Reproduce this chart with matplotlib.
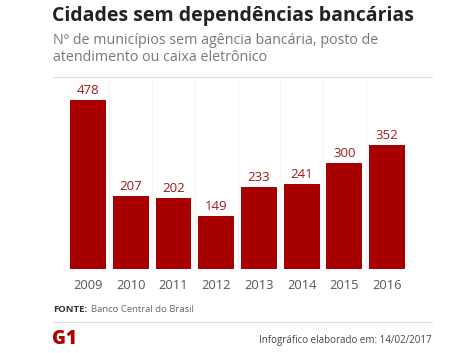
import matplotlib.pyplot as plt

# dados do grafico
anos = ['2009', '2010', '2011', '2012', '2013', '2014', '2015', '2016']
municipios = [478, 207, 202, 149, 233, 241, 300, 352]

vermelho = '#a80000'
W, H = 472, 353

plt.rcParams['font.family'] = ['Open Sans', 'DejaVu Sans']

fig = plt.figure(figsize=(W / 100, H / 100), dpi=100)
fig.patch.set_facecolor('white')

def fx(px):
    return px / W

def fy(py):
    return 1 - py / H

# eixo das barras: de x=53 a 432 px, de y=77 a 269 px
ax = fig.add_axes([fx(53), fy(269), fx(432) - fx(53), fy(77) - fy(269)])
pos = list(range(len(anos)))
ax.bar(pos, municipios, width=0.84, color=vermelho, zorder=3)
for p, v in zip(pos, municipios):
    ax.text(p, v + 8, str(v), ha='center', va='bottom', fontsize=9.5,
            color='#9e1a1a')
for p in pos[1:]:
    ax.axvline(p - 0.5, color='#f3f3f3', lw=0.8, zorder=1)
ax.set_xlim(-0.82, 8.05)
ax.set_ylim(0, 543)
ax.set_xticks(pos)
ax.set_xticklabels(anos, fontsize=9.3, color='#555555')
ax.tick_params(axis='x', length=0, pad=7)
ax.set_yticks([])
for s in ax.spines.values():
    s.set_visible(False)

# titulo e subtitulo
fig.text(fx(52), fy(16), 'Cidades sem dependências bancárias', fontsize=14.0,
         fontweight='bold', color='#222222', va='center', ha='left')
fig.text(fx(53), fy(49), 'Nº de municípios sem agência bancária, posto de\natendimento ou caixa eletrônico',
         fontsize=10.3, color='#777777', va='center', ha='left', linespacing=1.25)

# linhas cinza
fig.add_artist(plt.Line2D([fx(53), fx(432)], [fy(77), fy(77)], color='#dddddd', lw=0.8))
fig.add_artist(plt.Line2D([fx(53), fx(432)], [fy(322), fy(322)], color='#dddddd', lw=0.8))

# rodape
fig.text(fx(53), fy(309), 'FONTE:', fontsize=6.8, fontweight='bold', color='#333333',
         va='center', ha='left')
fig.text(fx(91), fy(309), 'Banco Central do Brasil', fontsize=6.8, color='#666666',
         va='center', ha='left')
fig.text(fx(52), fy(339), 'G1', fontsize=13.5, fontweight='heavy', color='#b00000',
         va='center', ha='left')
fig.text(fx(432), fy(340), 'Infográfico elaborado em: 14/02/2017', fontsize=7,
         color='#444444', va='center', ha='right')

fig.savefig('out.png', dpi=100)
